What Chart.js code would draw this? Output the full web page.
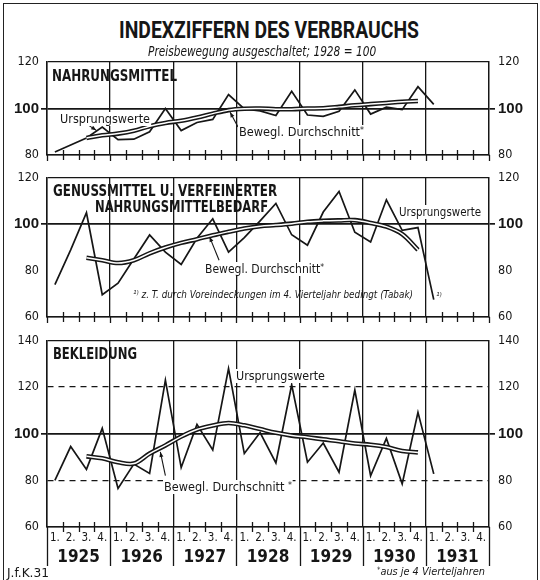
<!DOCTYPE html>
<html lang="de"><head><meta charset="utf-8">
<title>Indexziffern des Verbrauchs</title>
<script src="https://cdn.jsdelivr.net/npm/chart.js@4.4.1/dist/chart.umd.min.js"></script>
<style>
html,body{margin:0;padding:0;background:#fff;}
#wrap{position:relative;width:540px;height:580px;overflow:hidden;background:#fff;color:#161616;
 font-family:"DejaVu Sans Condensed","DejaVu Sans","Liberation Sans",sans-serif;}
#frame{position:absolute;left:3px;top:3px;width:535px;height:580px;border:1.5px solid #222;border-bottom:none;box-sizing:border-box;}
canvas{position:absolute;left:0;}
.t{position:absolute;white-space:nowrap;line-height:1.05;transform-origin:0 50%;z-index:5;}
.b{font-weight:bold;}
.h{font-family:Roboto,"Liberation Sans",sans-serif;font-weight:700;}
.i{font-style:italic;}
.bg{background:#fff;padding:0 1px;}
sup{font-size:70%;vertical-align:0.4em;line-height:0;}
</style></head>
<body><div id="wrap"><div id="frame"></div>
<canvas id="c1" width="540" height="116" style="top:50px"></canvas>
<canvas id="c2" width="540" height="164" style="top:166px"></canvas>
<canvas id="c3" width="540" height="250" style="top:330px"></canvas>
</div>
<script>
// ---------- data ----------
const quarterLabels = ['1.','2.','3.','4.','1.','2.','3.','4.','1.','2.','3.','4.','1.','2.','3.','4.',
                       '1.','2.','3.','4.','1.','2.','3.','4.','1.','2.','3.','4.'];
const yearLabels = ['1925','1926','1927','1928','1929','1930','1931'];

// Nahrungsmittel (1925 Q1 .. 1931 Q1)
const nahrungRaw = [81.3, 84.3, 87.3, 92, 86.6, 86.8, 90, 100, 90.5, 94, 95.3, 106,
                    99.8, 99, 97, 107.4, 97.2, 96.6, 98.8, 108, 97.6, 100.6, 99.5, 109.4, 101.8];
const nahrungMA  = [null, null, 87.3, 88.5, 89.2, 90.4, 92.4, 93.8, 94.7, 96.1, 97.8, 99.3,
                    99.9, 100, 99.7, 99.7, 100, 100.1, 100.7, 101.4, 101.9, 102.4, 102.9, 103.2];

// Genussmittel u. verfeinerter Nahrungsmittelbedarf
const genussRaw = [74, 89, 105, 69.6, 74.6, 85, 95.4, 88, 82.7, 94, 102.4, 88,
                   94.3, 101.5, 109, 95.5, 91, 105.3, 114.2, 96.6, 92.4, 110.6, 97.4, 98.6, 67.5];
const genussMA  = [null, null, 85.6, 84.5, 83.3, 84.5, 87.5, 90, 92, 93.6, 95.3, 96.8,
                   98.2, 99.2, 99.7, 100.3, 101.1, 101.5, 101.7, 101.8, 100.6, 99, 95.8, 89];

// Bekleidung
const bekleidRaw = [80, 94.5, 84.7, 102.3, 76.5, 87, 83, 123, 85.5, 104, 93, 128,
                    91.5, 100.5, 87.5, 121, 87.8, 96, 83.5, 118.7, 82, 98, 78.5, 109.2, 82.8];
const bekleidMA  = [null, null, 90.3, 89.5, 87.8, 87.2, 91.5, 95, 98.8, 101.8, 103.5, 104.6,
                    103.6, 102, 100.4, 99.2, 98.5, 97.6, 96.8, 95.8, 95.3, 94.3, 92.6, 92];

// ---------- style ----------
const INK = '#161616';
const CLEAR = 'rgba(0,0,0,0)';
const LEFT = 47, RIGHT_W = 540 - 489;
Chart.defaults.font.family = '"DejaVu Sans Condensed","DejaVu Sans",sans-serif';
Chart.defaults.color = INK;

const decor = {
  id: 'decor',
  afterDraw(chart, args, o) {
    const {ctx, chartArea: a} = chart;
    const x = chart.scales.x, y = chart.scales.y;
    const n = x.ticks.length;
    const step = x.getPixelForTick(1) - x.getPixelForTick(0);
    ctx.save();
    ctx.strokeStyle = INK;
    ctx.lineWidth = 1.3;
    for (let i = 0; i <= n; i++) {
      const px = Math.round(x.getPixelForTick(0) - step / 2 + i * step) + 0.5;
      const yr = i % 4 === 0;
      ctx.beginPath();
      ctx.moveTo(px, yr ? a.bottom : a.bottom - 5);
      ctx.lineTo(px, a.bottom + (yr ? o.yearDrop : 5));
      ctx.stroke();
    }
    ctx.lineWidth = 1.1;
    ctx.fillStyle = INK;
    for (const L of (o.leaders || [])) {
      const x1 = x.getPixelForValue(L.from[0]), y1 = y.getPixelForValue(L.from[1]);
      const x2 = x.getPixelForValue(L.to[0]), y2 = y.getPixelForValue(L.to[1]);
      ctx.beginPath(); ctx.moveTo(x1, y1); ctx.lineTo(x2, y2); ctx.stroke();
      const ang = Math.atan2(y2 - y1, x2 - x1), h = 5.5;
      ctx.beginPath();
      ctx.moveTo(x2, y2);
      ctx.lineTo(x2 - h * Math.cos(ang - 0.38), y2 - h * Math.sin(ang - 0.38));
      ctx.lineTo(x2 - h * Math.cos(ang + 0.38), y2 - h * Math.sin(ang + 0.38));
      ctx.closePath(); ctx.fill();
    }
    ctx.restore();
  }
};

function yAxis(pos, min, max, dashed) {
  const isV = (c, v) => c.tick && c.tick.value === v;
  return {
    position: pos, min, max,
    ticks: {
      stepSize: 20, color: INK, padding: pos === 'left' ? 2 : 3,
      font: c => isV(c, 100) ? {family: '"Liberation Sans","DejaVu Sans",sans-serif', size: 15, weight: 'bold'}
                             : {size: 12.5, weight: 'normal'}
    },
    grid: {
      drawOnChartArea: pos === 'left',
      color: c => {
        if (!c.tick) return CLEAR;
        const v = c.tick.value;
        return (v === min || v === max || v === 100 || dashed.includes(v)) ? INK : CLEAR;
      },
      lineWidth: c => isV(c, 100) ? 1.7 : 1.3,
      drawTicks: true, tickLength: 6, tickWidth: 1.7,
      tickColor: c => isV(c, 100) ? INK : CLEAR
    },
    border: {
      display: true, color: INK, width: 1.5,
      dash: c => (c.tick && dashed.includes(c.tick.value)) ? [6, 5] : []
    },
    afterFit: s => { s.width = pos === 'left' ? LEFT : RIGHT_W; }
  };
}

function xAxis(bottom) {
  return {
    type: 'category', labels: quarterLabels, offset: true, position: 'bottom', weight: 0,
    grid: {
      offset: true, drawTicks: false, lineWidth: 1.3,
      color: c => (c.index !== undefined && c.index % 4 === 0) ? INK : CLEAR
    },
    border: { display: true, color: INK, width: 1.5 },
    ticks: { display: bottom, autoSkip: false, maxRotation: 0, color: INK, padding: 4, font: { size: 11.5 } },
    afterFit: s => { s.height = bottom ? 17 : 8; }
  };
}

function datasets(raw, ma) {
  return [
    { label: 'Bewegl. Durchschnitt', data: ma, borderColor: '#ffffff', borderWidth: 1.5,
      tension: 0.35, pointRadius: 0, order: 1 },
    { label: 'Bewegl. Durchschnitt (Rand)', data: ma, borderColor: INK, borderWidth: 4.6,
      tension: 0.35, pointRadius: 0, order: 2 },
    { label: 'Ursprungswerte', data: raw, borderColor: INK, borderWidth: 1.7,
      borderJoinStyle: 'miter', tension: 0, pointRadius: 0, order: 3 }
  ];
}

function panel(id, raw, ma, min, max, dashed, bottom, pad, leaders) {
  const scales = {
    x: xAxis(bottom),
    y: yAxis('left', min, max, dashed),
    y2: yAxis('right', min, max, dashed)
  };
  if (bottom) {
    scales.x2 = {
      type: 'category', labels: yearLabels, offset: true, position: 'bottom', weight: 1,
      grid: { display: false }, border: { display: false },
      ticks: { autoSkip: false, maxRotation: 0, color: INK, padding: -5,
               font: { size: 17, weight: 'bold' } },
      afterFit: s => { s.height = 22; }
    };
  }
  return new Chart(document.getElementById(id), {
    type: 'line',
    data: { labels: quarterLabels, datasets: datasets(raw, ma) },
    options: {
      responsive: false, animation: false,
      layout: { autoPadding: false, padding: { top: pad[0], bottom: pad[1], left: 0, right: 0 } },
      plugins: { legend: { display: false }, tooltip: { enabled: false },
                 decor: { yearDrop: bottom ? 39 : 6, leaders } },
      scales
    },
    plugins: [decor]
  });
}

panel('c1', nahrungRaw, nahrungMA, 80, 120, [], false, [12, 3], [
  { from: [2.0, 93.4], to: [2.62, 90.6] },
  { from: [11.6, 92.0], to: [11.1, 98.4] }
]);
panel('c2', genussRaw, genussMA, 60, 120, [], false, [12, 5], [
  { from: [10.4, 84.5], to: [9.8, 94.6] }
]);
panel('c3', bekleidRaw, bekleidMA, 60, 140, [80, 120], true, [10, 14], [
  { from: [7.0, 82], to: [6.68, 92.2] }
]);

// ---------- texts ----------
const wrap = document.getElementById('wrap');
const texts = [
  { h: 'INDEXZIFFERN DES VERBRAUCHS', x: 119, y: 31, w: 300, fs: 24, cls: 'h' },
  { h: 'Preisbewegung ausgeschaltet; 1928 = 100', x: 148, y: 51, w: 228, fs: 14, cls: 'i' },
  { h: 'NAHRUNGSMITTEL', x: 52, y: 76, w: 125, fs: 16, cls: 'b' },
  { h: 'Ursprungswerte', x: 59, y: 119, w: 92, fs: 12.5, cls: 'bg' },
  { h: 'Bewegl. Durchschnitt<sup>*</sup>', x: 238, y: 132, w: 127, fs: 12.5, cls: 'bg' },
  { h: 'GENUSSMITTEL U. VERFEINERTER', x: 53, y: 191, w: 224, fs: 16, cls: 'b' },
  { h: 'NAHRUNGSMITTELBEDARF', x: 95, y: 207, w: 173, fs: 16, cls: 'b' },
  { h: 'Ursprungswerte', x: 398, y: 212, w: 84, fs: 12.5, cls: 'bg' },
  { h: 'Bewegl. Durchschnitt<sup>*</sup>', x: 204, y: 269, w: 121, fs: 12.5, cls: 'bg' },
  { h: '¹⁾ z. T. durch Voreindeckungen im 4. Vierteljahr bedingt (Tabak)', x: 133, y: 295, w: 280, fs: 10, cls: 'i' },
  { h: '¹⁾', x: 436, y: 297, fs: 10, cls: 'i' },
  { h: 'BEKLEIDUNG', x: 53, y: 354, w: 84, fs: 16, cls: 'b' },
  { h: 'Ursprungswerte', x: 235, y: 376, w: 91, fs: 12.5, cls: 'bg' },
  { h: 'Bewegl. Durchschnitt <sup>*</sup>', x: 163, y: 487, w: 130, fs: 12.5, cls: 'bg' },
  { h: 'J.f.K.31', x: 7, y: 573, w: 42, fs: 11.5, cls: '' },
  { h: '<sup>*</sup>aus je 4 Vierteljahren', x: 377, y: 572, w: 108, fs: 10.5, cls: 'i' }
];
for (const T of texts) {
  const d = document.createElement('div');
  d.className = 't ' + T.cls;
  d.style.fontSize = T.fs + 'px';
  d.innerHTML = T.h;
  wrap.appendChild(d);
  const r = d.getBoundingClientRect();
  d.style.left = T.x + 'px';
  d.style.top = (T.y - r.height / 2) + 'px';
  if (T.w) d.style.transform = 'scaleX(' + (T.w / r.width).toFixed(3) + ')';
}
</script>
</body></html>
